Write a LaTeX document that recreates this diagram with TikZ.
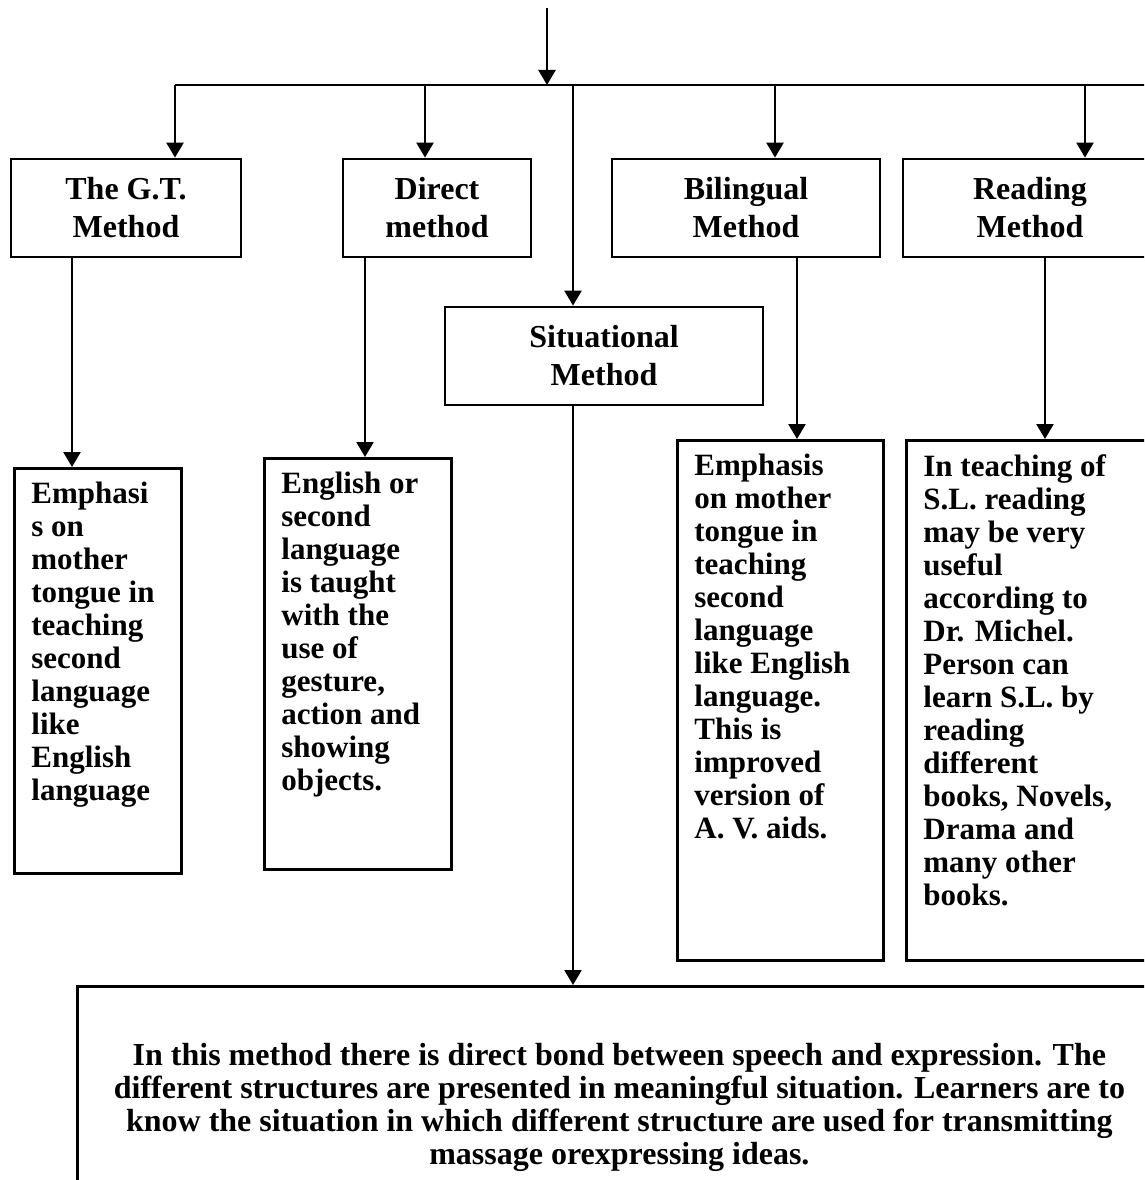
\documentclass[tikz,border=0pt]{standalone}
\usepackage{fontspec}
\setmainfont{Liberation Serif}
\usetikzlibrary{arrows.meta}

\begin{document}
\begin{tikzpicture}[x=1pt, y=-1pt,
		>={Triangle[width=17pt,length=15pt]},   %Pfeilspitzen
		line width=2.5pt,
		kopf/.style={draw, line width=2.8pt, align=center, inner sep=0pt, font=\fontsize{32}{38}\selectfont\bfseries},
		notiz/.style={draw, line width=2.8pt, anchor=north west, inner xsep=17pt, inner ysep=14pt, font=\fontsize{31}{33}\selectfont\bfseries}]
	%Bildbereich
	\useasboundingbox (0,0) rectangle (1144,1180);
	\clip (0,0) rectangle (1144,1180);
	% Methoden
	\node[kopf, minimum width=230pt, minimum height=98pt] (gt) at (126,208) {The G.T.\\Method};
	\node[kopf, minimum width=188pt, minimum height=98pt] (direkt) at (437,208) {Direct\\method};
	\node[kopf, minimum width=268pt, minimum height=98pt] (bilingual) at (746,208) {Bilingual\\Method};
	\node[kopf, minimum width=254pt, minimum height=98pt] (lesen) at (1030,208) {Reading\\Method};
	\node[kopf, minimum width=318pt, minimum height=98pt] (situativ) at (604,356) {Situational\\Method};
	% Erklaerungen
	\node[notiz] (ngt) at (13,467) {\parbox[t][377pt][t]{133pt}{Emphasi\\s on\\mother\\tongue in\\teaching\\second\\language\\like\\English\\language}};
	\node[notiz] (ndirekt) at (263,457) {\parbox[t][383pt][t]{153pt}{English or\\second\\language\\is taught\\with the\\use of\\gesture,\\action and\\showing\\objects.}};
	\node[notiz] (nbilingual) at (676,439) {\parbox[t][492pt][t]{172pt}{Emphasis\\on mother\\tongue in\\teaching\\second\\language\\like English\\language.\\This is\\improved\\version of\\A. V. aids.}};
	\node[notiz] (nlesen) at (905,439) {\parbox[t][492pt][t]{226pt}{In teaching of\\S.L. reading\\may be very\\useful\\according to\\Dr. Michel.\\Person can\\learn S.L. by\\reading\\different\\books, Novels,\\Drama and\\many other\\books.}};
	\node[draw, line width=2.8pt, anchor=north west, minimum width=1084pt, minimum height=242pt, align=center, font=\fontsize{32}{33}\selectfont\bfseries] (nsituativ) at (76,985)
		{In this method there is direct bond between speech and expression. The\\different structures are presented in meaningful situation. Learners are to\\know the situation in which different structure are used for transmitting\\massage orexpressing ideas.};
	% Zuleitung und Sammelschiene
	\coordinate (quelle) at (547,8);
	\coordinate (hub) at (547,85);
	\draw[->] (quelle) -- (hub);
	\coordinate (links) at (175,85);
	\coordinate (rechts) at (1150,85);
	\draw (links) -- (rechts);
	% Abzweige nach unten
	\foreach \k/\x in {gt/175, direkt/425, situativ/573, bilingual/775, lesen/1085}
		{\coordinate (o\k) at (\x,85);
		\draw[->] (o\k) -- (o\k |- \k.north);}
	\foreach \k/\x in {gt/72, direkt/365, situativ/573, bilingual/797, lesen/1045}
		{\coordinate (u\k) at (\x,0);
		\draw[->] (\k.south -| u\k) -- (n\k.north -| u\k);}
\end{tikzpicture}
\end{document}
